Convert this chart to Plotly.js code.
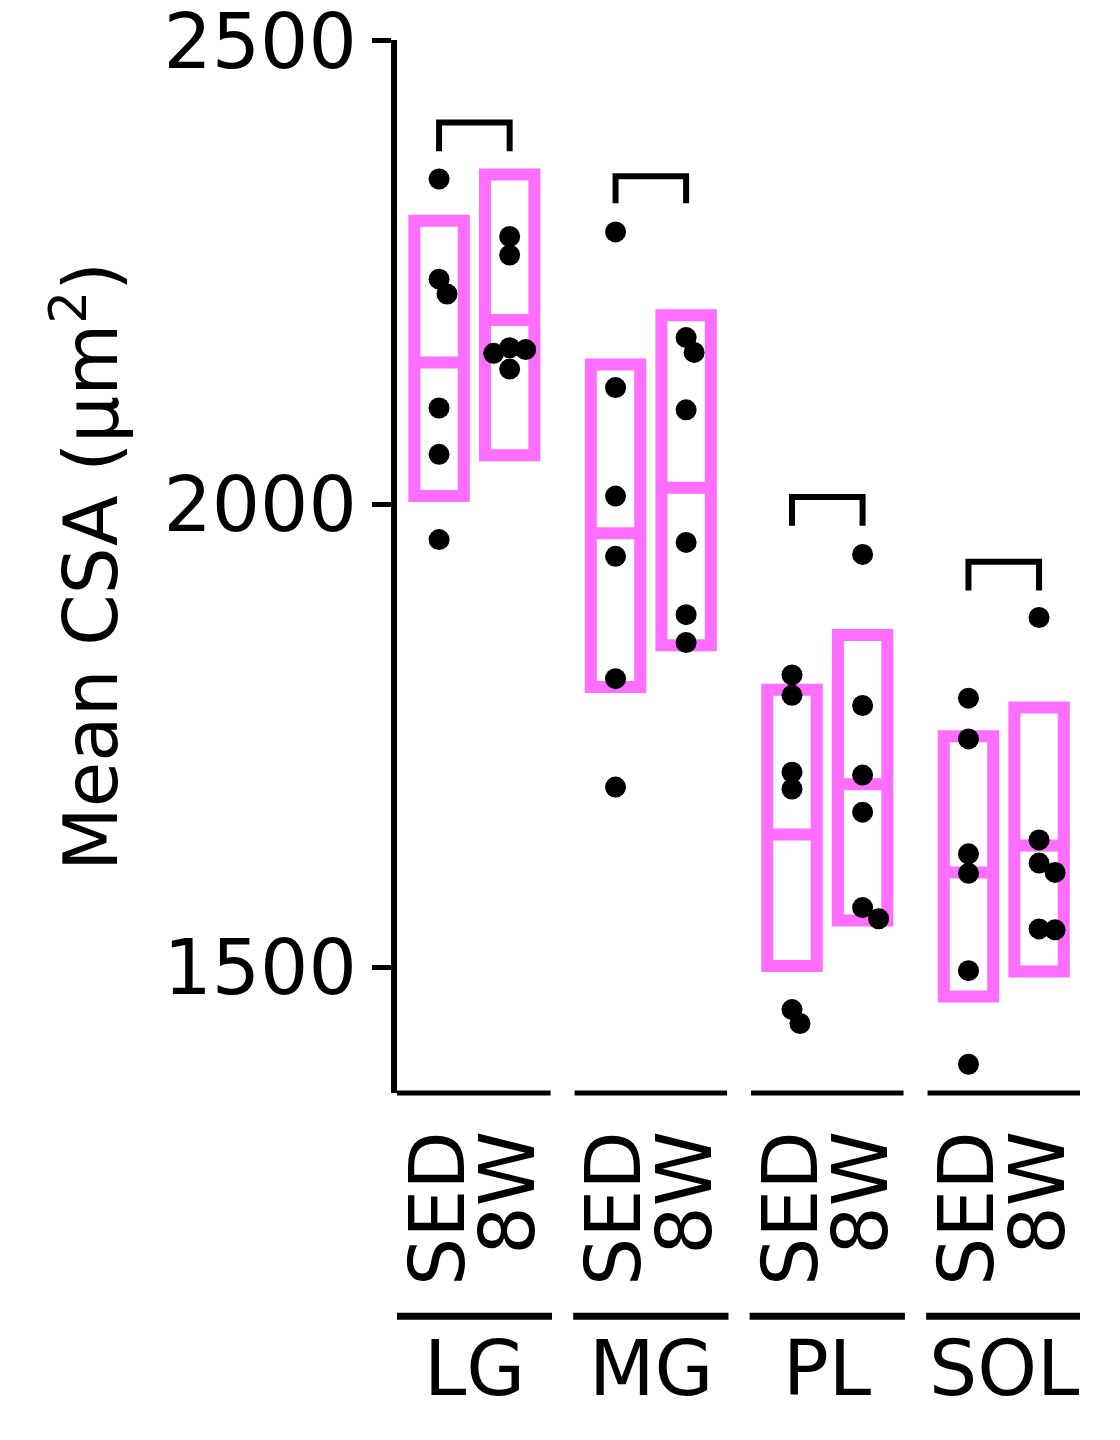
<!DOCTYPE html>
<html><head><meta charset="utf-8">
<script src="https://cdn.plot.ly/plotly-3.0.1.min.js"></script>
<style>html,body{margin:0;padding:0;background:#fff}</style>
</head><body><div id="chart" style="width:1120px;height:1440px"></div>
<script>
// ---- data ----
const groups = ['LG', 'MG', 'PL', 'SOL'];
const conditions = ['SED', '8W'];
const yTicks = [1500, 2000, 2500];

const lgSED  = [2351, 2243, 2227, 2104, 2054, 1962];
const lg8W   = [2289, 2269, 2169, 2167, 2163, 2146];
const mgSED  = [2294, 2126, 2009, 1944, 1812, 1695];
const mg8W   = [2180, 2164, 2102, 1959, 1881, 1851];
const plSED  = [1816, 1794, 1711, 1693, 1455, 1440];
const pl8W   = [1946, 1783, 1708, 1668, 1565, 1553];
const solSED = [1791, 1747, 1623, 1602, 1497, 1396];
const sol8W  = [1878, 1638, 1613, 1603, 1542, 1541];

// box: lower, mean, upper  (order: LG SED, LG 8W, MG SED, MG 8W, PL SED, PL 8W, SOL SED, SOL 8W)
const boxLower = [2009, 2053, 1803, 1848, 1502, 1551, 1469, 1496];
const boxMean  = [2153, 2199, 1969, 2018, 1644, 1698, 1603, 1632];
const boxUpper = [2306, 2356, 2151, 2204, 1800, 1859, 1750, 1781];

// significance brackets per group
const bracketTop    = [2412, 2354, 2008, 1938];
const bracketBottom = [2381, 2325, 1977, 1907];

// ---- layout constants ----
const W = 1120, H = 1440;
const M = {l: 397, r: 40, t: 40, b: 347};
const xRange = [0.404, 10.08];
const yRange = [1365, 2501];
const PINK = '#FF6EFF';
const FONT = 'DejaVu Sans, sans-serif';
const FS = 76;

const pxPerX = (W - M.l - M.r) / (xRange[1] - xRange[0]);
const pxPerY = (H - M.t - M.b) / (yRange[1] - yRange[0]);

const seriesList = [lgSED, lg8W, mgSED, mg8W, plSED, pl8W, solSED, sol8W];
const posOf = (g, c) => 1 + 2.5 * g + c;
const groupCenter = g => 1.5 + 2.5 * g;

// simple beeswarm placement to avoid overlapping points
function swarm(center, vals) {
  const placed = [];
  const xs = [];
  const steps = [0, 8, -8, 16, -16, 24, -24];
  vals.forEach(v => {
    for (const s of steps) {
      const ok = placed.every(p => Math.hypot(p.dx - s, (p.v - v) * pxPerY) >= 15);
      if (ok) { placed.push({dx: s, v}); xs.push(center + s / pxPerX); break; }
    }
  });
  return xs;
}

const boxX = [];
groups.forEach((g, gi) => conditions.forEach((c, ci) => boxX.push(posOf(gi, ci))));

const traces = [];
// floating boxes
traces.push({
  type: 'bar', x: boxX, base: boxLower,
  y: boxUpper.map((u, i) => u - boxLower[i]),
  width: 0.7,
  marker: {color: 'rgba(0,0,0,0)', line: {color: PINK, width: 12}},
  hoverinfo: 'skip', showlegend: false
});
// mean lines
traces.push({
  type: 'scatter', mode: 'markers', x: boxX, y: boxMean,
  marker: {symbol: 'line-ew', size: 40, color: PINK, line: {color: PINK, width: 12}},
  hoverinfo: 'skip', showlegend: false, cliponaxis: false
});
// points
seriesList.forEach((vals, i) => {
  traces.push({
    type: 'scatter', mode: 'markers',
    x: swarm(boxX[i], vals), y: vals,
    marker: {color: 'black', size: 21},
    hoverinfo: 'skip', showlegend: false, cliponaxis: false
  });
});
// brackets
groups.forEach((g, gi) => {
  const x0 = posOf(gi, 0), x1 = posOf(gi, 1);
  traces.push({
    type: 'scatter', mode: 'lines',
    x: [x0, x0, x1, x1],
    y: [bracketBottom[gi], bracketTop[gi], bracketTop[gi], bracketBottom[gi]],
    line: {color: 'black', width: 6},
    hoverinfo: 'skip', showlegend: false
  });
});

const shapes = [];
const annotations = [];
groups.forEach((g, gi) => {
  const c = groupCenter(gi);
  // broken x axis
  shapes.push({type: 'line', xref: 'x', yref: 'paper',
    x0: gi === 0 ? xRange[0] : c - 1.08, x1: c + 1.08, y0: 0, y1: 0,
    line: {color: 'black', width: 5}});
  // group divider line
  shapes.push({type: 'line', xref: 'x', yref: 'paper',
    x0: c - 1.1, x1: c + 1.1, y0: -0.212, y1: -0.212,
    line: {color: 'black', width: 7}});
  annotations.push({xref: 'x', yref: 'paper', x: c, y: -0.2614,
    text: g, showarrow: false, xanchor: 'center', yanchor: 'middle',
    font: {family: FONT, size: FS, color: 'black'}});
});

const layout = {
  width: W, height: H, margin: M,
  paper_bgcolor: 'white', plot_bgcolor: 'white',
  showlegend: false,
  font: {family: FONT, size: FS, color: 'black'},
  xaxis: {
    range: xRange, showgrid: false, zeroline: false, showline: false,
    tickvals: boxX, ticktext: boxX.map((_, i) => conditions[i % 2]),
    tickangle: -90, ticks: '', ticklabelstandoff: 22,
    tickfont: {family: FONT, size: FS, color: 'black'}
  },
  yaxis: {
    range: yRange, showgrid: false, zeroline: false,
    showline: true, linecolor: 'black', linewidth: 6,
    ticks: 'outside', ticklen: 19, tickwidth: 5, tickcolor: 'black',
    tickvals: yTicks, ticktext: yTicks.map(String),
    ticklabeloverflow: 'allow',
    tickfont: {family: FONT, size: FS, color: 'black'},
    title: {text: 'Mean CSA (µm<sup>2</sup>)', font: {family: FONT, size: 74, color: 'black'}, standoff: 23}
  },
  shapes, annotations
};

Plotly.newPlot('chart', traces, layout, {displayModeBar: false, staticPlot: true});
</script></body></html>
